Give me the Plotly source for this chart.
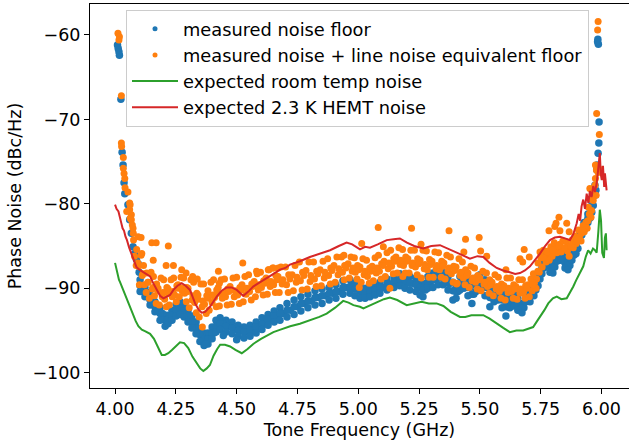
import plotly.graph_objects as go

# ---------------- data ----------------
tick_x = [4.0, 4.25, 4.5, 4.75, 5.0, 5.25, 5.5, 5.75, 6.0]
tick_x_text = ["4.00", "4.25", "4.50", "4.75", "5.00", "5.25", "5.50", "5.75", "6.00"]
tick_y = [-100, -90, -80, -70, -60]
tick_y_text = ["\u2212100", "\u221290", "\u221280", "\u221270", "\u221260"]

# measured noise floor: dense band (columns with upper / middle / lower points)
blue_cols = [
    4.103, 4.123, 4.144, 4.164, 4.185, 4.206, 4.218, 4.234, 4.251, 4.267,
    4.284, 4.300, 4.316, 4.333, 4.349, 4.366, 4.382, 4.399, 4.415, 4.432,
    4.456, 4.481, 4.506, 4.530, 4.555, 4.580, 4.604, 4.629, 4.654, 4.678,
    4.707, 4.736, 4.764, 4.793, 4.822, 4.851, 4.880, 4.908, 4.937, 4.966,
    4.986, 5.007, 5.028, 5.048, 5.069, 5.089, 5.118, 5.147, 5.171, 5.192,
    5.212, 5.237, 5.254, 5.266, 5.286, 5.307, 5.328, 5.348, 5.369, 5.389,
    5.402, 5.418, 5.434, 5.451, 5.467, 5.484, 5.500, 5.521, 5.541, 5.558,
    5.574, 5.591, 5.607, 5.623, 5.640, 5.656, 5.673, 5.689, 5.706, 5.722,
    5.739, 5.755, 5.772, 5.788, 5.800, 5.817, 5.833, 5.850, 5.862, 5.878,
    5.895, 5.911, 5.928, 5.944, 5.960, 5.973, 5.981]
blue_mid_x = [
    4.113, 4.133, 4.154, 4.174, 4.195, 4.212, 4.226, 4.242, 4.259, 4.275,
    4.292, 4.308, 4.324, 4.341, 4.357, 4.374, 4.390, 4.407, 4.423, 4.444,
    4.468, 4.493, 4.518, 4.542, 4.567, 4.592, 4.616, 4.641, 4.666, 4.692,
    4.721, 4.750, 4.778, 4.807, 4.836, 4.865, 4.894, 4.922, 4.951, 4.976,
    4.996, 5.017, 5.038, 5.058, 5.079, 5.103, 5.132, 5.159, 5.181, 5.202,
    5.224, 5.245, 5.260, 5.276, 5.296, 5.317, 5.338, 5.358, 5.379, 5.395,
    5.410, 5.426, 5.442, 5.459, 5.475, 5.492, 5.510, 5.531, 5.549, 5.566,
    5.582, 5.599, 5.615, 5.631, 5.648, 5.664, 5.681, 5.697, 5.714, 5.730,
    5.747, 5.763, 5.780, 5.794, 5.808, 5.825, 5.841, 5.856, 5.870, 5.886,
    5.903, 5.919, 5.936, 5.952, 5.966, 5.977, 5.984]
blue_upper = [
    -89.0, -89.9, -90.8, -91.6, -92.3, -93.2, -93.2, -92.6, -91.9, -91.6,
    -92.0, -92.6, -93.3, -94.0, -94.8, -95.3, -95.3, -94.6, -93.8, -93.5,
    -93.8, -94.0, -94.4, -94.6, -94.4, -94.0, -93.5, -93.1, -92.7, -92.3,
    -91.8, -91.4, -91.0, -90.7, -90.3, -90.1, -89.9, -89.6, -89.1, -89.0,
    -89.4, -89.7, -90.0, -90.0, -89.6, -89.3, -88.9, -88.6, -88.3, -88.4,
    -88.6, -88.8, -89.0, -89.4, -88.6, -88.2, -88.1, -88.1, -88.6, -89.3,
    -89.6, -88.6, -88.3, -89.0, -89.6, -88.8, -88.4, -89.0, -90.0, -90.0,
    -89.9, -90.5, -91.2, -90.7, -90.5, -91.2, -91.8, -90.1, -90.0, -89.5,
    -88.2, -86.9, -85.9, -86.7, -86.9, -85.6, -85.5, -86.4, -86.9, -85.5,
    -84.8, -83.2, -82.2, -81.2, -79.5, -77.8, -75.4]
blue_mid = [
    -89.7, -90.5, -91.4, -92.2, -93.0, -93.8, -93.7, -93.2, -92.6, -92.3,
    -92.7, -93.3, -94.0, -94.7, -95.5, -96.0, -96.0, -95.3, -94.5, -94.2,
    -94.5, -94.7, -95.0, -95.2, -95.0, -94.6, -94.2, -93.7, -93.3, -93.0,
    -92.6, -92.2, -91.8, -91.5, -91.1, -90.9, -90.6, -90.4, -89.9, -89.8,
    -90.1, -90.4, -90.6, -90.5, -90.2, -89.9, -89.5, -89.2, -89.0, -89.2,
    -89.4, -89.6, -89.9, -90.2, -89.3, -89.0, -88.8, -88.8, -89.4, -90.3,
    -90.4, -89.4, -89.1, -89.9, -90.7, -89.6, -89.3, -89.9, -91.1, -90.8,
    -90.6, -91.4, -92.2, -91.5, -91.3, -91.9, -92.3, -90.8, -90.8, -90.2,
    -88.9, -87.6, -86.6, -87.4, -87.5, -86.2, -86.1, -87.0, -87.3, -86.1,
    -85.3, -83.7, -82.6, -81.7, -80.2, -78.4, -75.7]
blue_lower = [
    -90.4, -91.0, -92.0, -92.8, -93.8, -94.5, -94.2, -93.8, -93.3, -93.1,
    -93.4, -94.0, -94.7, -95.4, -96.3, -96.8, -96.6, -96.0, -95.2, -94.9,
    -95.2, -95.4, -95.7, -95.9, -95.7, -95.3, -94.9, -94.4, -94.0, -93.8,
    -93.4, -93.1, -92.7, -92.3, -92.0, -91.8, -91.4, -91.2, -90.7, -90.6,
    -90.9, -91.2, -91.2, -91.0, -90.8, -90.6, -90.2, -89.9, -89.7, -90.0,
    -90.2, -90.4, -90.8, -91.0, -90.0, -89.9, -89.6, -89.6, -90.2, -91.4,
    -91.2, -90.2, -90.0, -90.9, -91.8, -90.4, -90.2, -90.9, -92.2, -91.6,
    -91.4, -92.3, -93.3, -92.3, -92.1, -92.6, -92.9, -91.6, -91.6, -90.9,
    -89.7, -88.3, -87.4, -88.1, -88.2, -86.8, -86.7, -87.6, -87.8, -86.7,
    -85.9, -84.3, -83.1, -82.2, -81.0, -79.0, -76.0]
# measured noise floor: steep edges, spikes, outliers
blue_extra_x = [4.010, 4.013, 4.016, 4.018, 4.024, 4.029, 4.033, 4.037, 4.040, 4.053,
                4.060, 4.067, 4.074, 4.081, 4.088, 4.095, 4.099, 4.372, 4.445, 4.500,
                5.985, 5.987, 5.984, 5.990, 5.989, 5.986]
blue_extra_y = [-61.2, -61.6, -62.0, -62.4, -67.6, -73.9, -75.4, -77.5, -78.8, -80.1,
                -81.9, -83.5, -85.1, -85.9, -86.6, -87.1, -88.1, -96.6, -95.6, -96.1,
                -60.5, -61.1, -60.8, -70.3, -72.8, -74.0]

# measured noise + line noise equivalent floor: band points
orange_x = [
    4.076, 4.089, 4.080, 4.087,
    4.107, 4.095, 4.112, 4.100,
    4.117, 4.130, 4.121, 4.128,
    4.148, 4.136, 4.153, 4.141,
    4.158, 4.171, 4.162, 4.169,
    4.189, 4.177, 4.194, 4.182,
    4.200, 4.213, 4.204, 4.211,
    4.230, 4.218, 4.235, 4.223,
    4.241, 4.254, 4.245, 4.252,
    4.271, 4.259, 4.276, 4.264,
    4.282, 4.295, 4.286, 4.293,
    4.312, 4.300, 4.317, 4.305,
    4.323, 4.336, 4.327, 4.334,
    4.353, 4.341, 4.358, 4.346,
    4.364, 4.377, 4.368, 4.375,
    4.394, 4.382, 4.399, 4.387,
    4.405, 4.418, 4.409, 4.416,
    4.436, 4.424, 4.441, 4.429,
    4.450, 4.463, 4.454, 4.461,
    4.485, 4.473, 4.490, 4.478,
    4.500, 4.513, 4.504, 4.511,
    4.534, 4.522, 4.539, 4.527,
    4.549, 4.562, 4.553, 4.560,
    4.584, 4.572, 4.589, 4.577,
    4.598, 4.611, 4.602, 4.609,
    4.633, 4.621, 4.638, 4.626,
    4.648, 4.661, 4.652, 4.659,
    4.682, 4.670, 4.687, 4.675,
    4.701, 4.714, 4.705, 4.712,
    4.740, 4.728, 4.745, 4.733,
    4.758, 4.771, 4.762, 4.769,
    4.797, 4.785, 4.802, 4.790,
    4.816, 4.829, 4.820, 4.827,
    4.855, 4.843, 4.860, 4.848,
    4.874, 4.887, 4.878, 4.885,
    4.912, 4.900, 4.917, 4.905,
    4.931, 4.944, 4.935, 4.942,
    4.970, 4.958, 4.975, 4.963,
    4.984, 4.997, 4.988, 4.995,
    5.019, 5.007, 5.024, 5.012,
    5.034, 5.047, 5.038, 5.045,
    5.069, 5.057, 5.074, 5.062,
    5.083, 5.096, 5.087, 5.094,
    5.118, 5.106, 5.123, 5.111,
    5.133, 5.146, 5.137, 5.144,
    5.167, 5.155, 5.172, 5.160,
    5.182, 5.195, 5.186, 5.193,
    5.216, 5.204, 5.221, 5.209,
    5.231, 5.244, 5.235, 5.242,
    5.266, 5.254, 5.271, 5.259,
    5.280, 5.293, 5.284, 5.291,
    5.315, 5.303, 5.320, 5.308,
    5.330, 5.343, 5.334, 5.341,
    5.364, 5.352, 5.369, 5.357,
    5.379, 5.392, 5.383, 5.390,
    5.414, 5.402, 5.419, 5.407,
    5.428, 5.441, 5.432, 5.439,
    5.463, 5.451, 5.468, 5.456,
    5.478, 5.491, 5.482, 5.489,
    5.512, 5.500, 5.517, 5.505,
    5.527, 5.540, 5.531, 5.538,
    5.562, 5.550, 5.567, 5.555,
    5.576, 5.589, 5.580, 5.587,
    5.611, 5.599, 5.616, 5.604,
    5.626, 5.639, 5.630, 5.637,
    5.660, 5.648, 5.665, 5.653,
    5.675, 5.688, 5.679, 5.686,
    5.710, 5.698, 5.715, 5.703,
    5.720, 5.733, 5.724, 5.731,
    5.751, 5.739, 5.756, 5.744,
    5.761, 5.774, 5.765, 5.772,
    5.792, 5.780, 5.797, 5.785,
    5.806, 5.819, 5.810, 5.817,
    5.841, 5.829, 5.846, 5.834,
    5.856, 5.869, 5.860, 5.867,
    5.891, 5.879, 5.896, 5.884,
    5.905, 5.918, 5.909, 5.916,
    5.936, 5.924, 5.941, 5.929,
    5.946, 5.959, 5.950, 5.957,
    5.973, 5.961, 5.978, 5.966,
    5.975, 5.988, 5.979, 5.986]
orange_y = [
    -84.3, -85.4, -86.2, -87.3,
    -86.1, -87.4, -88.5, -89.6,
    -87.3, -88.2, -89.6, -90.5,
    -88.1, -89.3, -90.1, -91.2,
    -88.6, -89.5, -90.9, -91.8,
    -88.8, -90.0, -91.0, -92.0,
    -89.0, -89.9, -91.3, -92.2,
    -89.0, -90.1, -91.0, -92.0,
    -88.8, -89.7, -90.8, -91.6,
    -88.7, -89.6, -90.3, -91.0,
    -88.8, -89.9, -90.6, -91.6,
    -89.0, -90.0, -91.4, -92.3,
    -89.3, -90.6, -91.7, -92.9,
    -89.5, -90.8, -92.2, -93.4,
    -89.5, -90.9, -91.9, -93.0,
    -89.3, -90.3, -91.7, -92.6,
    -89.0, -90.2, -91.1, -92.2,
    -89.0, -89.9, -91.2, -92.1,
    -88.9, -90.1, -91.0, -92.0,
    -88.8, -89.8, -91.0, -91.9,
    -88.7, -89.9, -90.8, -91.8,
    -88.6, -89.6, -90.7, -91.6,
    -88.4, -89.5, -90.4, -91.4,
    -88.3, -89.2, -90.2, -91.0,
    -88.1, -89.1, -89.9, -90.8,
    -87.8, -88.8, -89.8, -90.7,
    -87.6, -88.5, -89.6, -90.5,
    -87.5, -88.6, -89.5, -90.5,
    -87.5, -88.4, -89.6, -90.5,
    -87.3, -88.4, -89.3, -90.3,
    -86.9, -88.1, -89.1, -90.2,
    -86.9, -87.9, -89.2, -90.1,
    -86.9, -88.0, -88.9, -89.8,
    -86.8, -87.8, -88.8, -89.7,
    -86.5, -87.6, -88.5, -89.5,
    -86.3, -87.3, -88.4, -89.3,
    -86.3, -87.3, -88.1, -89.0,
    -86.3, -87.1, -88.0, -88.8,
    -86.4, -87.3, -88.1, -88.9,
    -86.5, -87.5, -88.4, -89.3,
    -86.7, -87.6, -88.6, -89.4,
    -86.4, -87.4, -88.2, -89.1,
    -86.1, -87.1, -88.0, -88.9,
    -85.8, -86.8, -87.7, -88.6,
    -85.5, -86.5, -87.4, -88.3,
    -85.2, -86.3, -87.2, -88.2,
    -85.4, -86.3, -87.3, -88.2,
    -85.5, -86.5, -87.3, -88.2,
    -85.5, -86.5, -87.5, -88.4,
    -85.5, -86.7, -87.7, -88.8,
    -85.6, -86.6, -87.8, -88.7,
    -85.7, -86.8, -87.7, -88.7,
    -85.8, -86.8, -87.8, -88.7,
    -86.1, -87.0, -88.0, -88.9,
    -86.3, -87.4, -88.3, -89.3,
    -86.5, -87.5, -88.5, -89.4,
    -86.9, -87.8, -88.8, -89.6,
    -87.4, -88.2, -89.1, -89.9,
    -87.6, -88.5, -89.3, -90.1,
    -88.0, -88.8, -89.5, -90.3,
    -88.2, -89.0, -89.8, -90.6,
    -88.4, -89.3, -90.1, -90.9,
    -88.7, -89.5, -90.4, -91.2,
    -88.8, -89.7, -90.5, -91.4,
    -88.8, -89.6, -90.4, -91.2,
    -89.0, -89.8, -90.6, -91.3,
    -89.0, -89.7, -90.5, -91.2,
    -88.9, -89.6, -90.3, -91.0,
    -88.3, -88.9, -89.4, -90.0,
    -86.4, -87.0, -87.5, -88.1,
    -85.5, -86.0, -86.4, -86.9,
    -85.1, -85.6, -86.2, -86.7,
    -84.6, -85.0, -85.4, -85.8,
    -84.4, -84.8, -85.3, -85.7,
    -84.5, -85.1, -85.6, -86.2,
    -83.8, -84.3, -84.7, -85.2,
    -83.1, -83.5, -84.0, -84.4,
    -82.2, -82.6, -82.9, -83.3,
    -80.4, -80.8, -81.2, -81.6,
    -77.8, -78.4, -79.0, -79.6,
    -75.4, -75.8, -76.0, -76.3]
# measured noise + line noise: points through the middle of the band
orange_c_x = [4.094, 4.115, 4.135, 4.156, 4.176, 4.197, 4.218, 4.238, 4.259, 4.279,
              4.300, 4.320, 4.341, 4.361, 4.382, 4.402, 4.423, 4.444, 4.468, 4.493,
              4.518, 4.542, 4.567, 4.592, 4.616, 4.641, 4.666, 4.690, 4.719, 4.748,
              4.776, 4.805, 4.834, 4.863, 4.892, 4.920, 4.949, 4.978, 5.002, 5.027,
              5.052, 5.077, 5.101, 5.126, 5.151, 5.175, 5.200, 5.224, 5.249, 5.274,
              5.298, 5.323, 5.348, 5.372, 5.397, 5.422, 5.446, 5.471, 5.496, 5.520,
              5.545, 5.570, 5.594, 5.619, 5.644, 5.668, 5.693, 5.718, 5.738, 5.759,
              5.779, 5.800, 5.824, 5.849, 5.874, 5.899, 5.923, 5.944, 5.962, 5.975]
orange_c_y = [-87.0, -88.3, -89.3, -89.9, -90.3, -90.5, -90.6, -90.4, -90.0, -90.0,
              -90.4, -90.9, -91.3, -91.5, -91.2, -90.8, -90.6, -90.6, -90.4, -90.3,
              -90.2, -90.0, -89.8, -89.6, -89.4, -89.2, -89.0, -89.0, -88.9, -88.7,
              -88.5, -88.5, -88.3, -88.1, -87.9, -87.7, -87.6, -87.6, -87.8, -88.0,
              -88.0, -87.6, -87.3, -87.0, -86.8, -86.7, -86.8, -87.0, -87.1, -87.2,
              -87.2, -87.3, -87.4, -87.6, -87.9, -88.1, -88.5, -88.8, -89.0, -89.3,
              -89.6, -89.8, -90.0, -90.0, -90.1, -90.1, -90.0, -89.6, -88.0, -86.4,
              -85.7, -85.5, -85.0, -85.2, -85.0, -84.2, -83.2, -82.0, -79.5, -77.0]
# measured noise + line noise: steep edges, spikes, outliers
orange_out_x = [4.012, 4.018, 4.016, 4.026, 4.026, 4.027, 4.034, 4.034, 4.037, 4.040,
                4.041, 4.053, 4.060, 4.060, 4.067, 4.067, 4.074, 4.071, 4.075, 4.095,
                4.062, 4.048, 4.062, 4.107, 4.110, 4.151, 4.169, 4.219, 4.157, 4.210,
                4.240, 4.274, 4.292, 4.319, 4.338, 4.425, 4.525, 4.582, 4.630, 4.671,
                4.359, 4.429, 4.651, 4.941, 5.014, 5.082, 5.103, 5.004, 5.130, 5.219,
                5.258, 5.183, 5.373, 5.441, 5.497, 5.503, 5.434, 5.528, 5.404, 5.607,
                5.665, 5.682, 5.676, 5.703, 5.747, 5.784, 5.825, 5.813, 5.808, 5.829,
                5.857, 5.867, 5.952, 5.986, 5.984, 5.980, 5.991]
orange_out_y = [-59.8, -60.2, -60.6, -67.2, -72.8, -73.2, -74.5, -75.8, -76.4, -77.0,
                -78.1, -78.6, -79.9, -80.7, -81.3, -81.9, -82.9, -82.5, -83.5, -83.9,
                -80.1, -80.9, -81.7, -84.0, -85.9, -84.6, -84.6, -85.0, -86.7, -87.3,
                -87.3, -87.8, -88.2, -88.6, -88.9, -88.0, -87.0, -88.0, -87.8, -87.6,
                -94.6, -89.4, -87.6, -86.1, -84.7, -82.8, -85.1, -89.9, -90.0, -82.9,
                -84.8, -88.6, -83.2, -84.2, -84.0, -85.6, -85.7, -86.2, -89.5, -87.8,
                -86.5, -85.4, -86.9, -86.3, -85.7, -83.2, -81.6, -82.3, -82.7, -83.2,
                -82.3, -83.3, -78.2, -58.4, -59.4, -69.3, -71.8]

# expected room temp noise
green_x = [4.000, 4.005, 4.010, 4.016, 4.021, 4.028, 4.035, 4.041, 4.050, 4.060,
           4.075, 4.085, 4.096, 4.110, 4.125, 4.144, 4.160, 4.175, 4.192, 4.205,
           4.219, 4.235, 4.250, 4.267, 4.284, 4.301, 4.318, 4.336, 4.350, 4.363,
           4.377, 4.390, 4.405, 4.420, 4.432, 4.452, 4.473, 4.495, 4.521, 4.545,
           4.568, 4.600, 4.630, 4.651, 4.680, 4.720, 4.760, 4.800, 4.840, 4.870,
           4.905, 4.938, 4.960, 4.980, 5.007, 5.021, 5.050, 5.080, 5.105, 5.130,
           5.160, 5.199, 5.230, 5.260, 5.290, 5.322, 5.350, 5.380, 5.418, 5.440,
           5.465, 5.490, 5.514, 5.540, 5.569, 5.596, 5.623, 5.650, 5.678, 5.700,
           5.719, 5.735, 5.747, 5.765, 5.781, 5.800, 5.816, 5.835, 5.857, 5.870,
           5.884, 5.895, 5.905, 5.915, 5.925, 5.935, 5.945, 5.955, 5.965, 5.973,
           5.980, 5.987, 5.993, 5.998, 6.003, 6.010, 6.014, 6.018, 6.021]
green_y = [-87.0, -87.6, -88.4, -89.0, -89.3, -89.8, -90.4, -90.8, -91.6, -92.3,
           -93.3, -93.9, -94.5, -94.9, -95.1, -95.4, -96.0, -96.9, -97.9, -97.9,
           -97.7, -97.3, -96.9, -96.4, -96.5, -97.1, -98.1, -98.9, -99.5, -99.8,
           -99.5, -99.1, -98.0, -97.2, -96.7, -96.7, -96.9, -97.3, -97.7, -97.2,
           -96.6, -96.0, -95.5, -95.2, -94.9, -94.5, -94.2, -93.8, -93.4, -93.0,
           -92.3, -91.5, -91.7, -92.0, -92.2, -92.4, -92.0, -91.6, -91.3, -91.1,
           -91.4, -92.0, -91.8, -91.6, -91.8, -91.8, -92.1, -92.8, -93.4, -93.4,
           -93.2, -93.2, -93.2, -93.6, -94.2, -94.7, -95.2, -95.0, -95.0, -94.8,
           -94.6, -93.9, -93.4, -92.6, -91.8, -91.2, -91.0, -91.3, -91.2, -90.6,
           -89.8, -89.1, -88.5, -88.0, -87.4, -86.3, -85.5, -85.9, -85.3, -85.5,
           -85.8, -83.3, -80.7, -82.0, -85.8, -86.4, -84.0, -83.5, -85.5]

# expected 2.3 K HEMT noise
red_x = [4.000, 4.006, 4.014, 4.020, 4.025, 4.031, 4.037, 4.043, 4.049, 4.058,
         4.067, 4.077, 4.088, 4.100, 4.111, 4.122, 4.133, 4.144, 4.157, 4.171,
         4.185, 4.199, 4.212, 4.226, 4.240, 4.257, 4.274, 4.290, 4.308, 4.320,
         4.329, 4.343, 4.356, 4.370, 4.382, 4.390, 4.404, 4.418, 4.438, 4.459,
         4.480, 4.500, 4.515, 4.527, 4.548, 4.568, 4.590, 4.610, 4.640, 4.678,
         4.700, 4.719, 4.760, 4.801, 4.840, 4.884, 4.920, 4.952, 4.975, 5.007,
         5.028, 5.048, 5.080, 5.117, 5.145, 5.171, 5.200, 5.230, 5.267, 5.300,
         5.336, 5.370, 5.404, 5.430, 5.459, 5.490, 5.514, 5.540, 5.569, 5.595,
         5.623, 5.645, 5.665, 5.685, 5.706, 5.727, 5.747, 5.768, 5.788, 5.808,
         5.829, 5.850, 5.870, 5.884, 5.898, 5.906, 5.912, 5.918, 5.925, 5.932,
         5.939, 5.946, 5.952, 5.959, 5.966, 5.973, 5.980, 5.986, 5.993, 5.997,
         6.001, 6.006, 6.011, 6.014, 6.018, 6.021]
red_y = [-80.1, -80.6, -80.9, -81.8, -82.2, -82.9, -83.2, -83.9, -84.3, -85.2,
         -85.9, -86.6, -87.5, -87.8, -88.0, -88.2, -88.4, -88.6, -89.4, -90.2,
         -90.9, -91.2, -91.0, -90.8, -90.2, -89.7, -89.4, -89.7, -90.2, -91.0,
         -91.8, -92.5, -92.9, -92.8, -92.5, -92.2, -91.6, -91.0, -90.3, -89.9,
         -89.9, -90.2, -90.6, -90.9, -90.4, -89.8, -89.4, -89.0, -88.5, -87.8,
         -87.6, -87.2, -86.8, -86.3, -85.9, -85.5, -85.0, -84.6, -84.8, -85.4,
         -85.1, -85.2, -84.8, -84.3, -84.2, -84.1, -84.6, -85.0, -85.3, -85.0,
         -84.9, -85.3, -85.7, -86.1, -86.5, -86.2, -86.3, -87.0, -87.6, -87.9,
         -88.1, -88.3, -88.2, -87.9, -87.4, -86.7, -85.9, -85.0, -84.3, -84.0,
         -83.9, -84.1, -84.3, -83.6, -82.3, -81.2, -82.0, -80.3, -79.5, -80.6,
         -78.8, -79.9, -78.5, -79.2, -77.9, -78.6, -77.6, -76.0, -74.0, -76.5,
         -77.2, -75.5, -78.0, -76.4, -77.5, -78.4]

assert len(blue_cols) == len(blue_mid_x) == len(blue_upper) == len(blue_mid) == len(blue_lower)
assert len(blue_extra_x) == len(blue_extra_y)
assert len(orange_x) == len(orange_y)
assert len(orange_c_x) == len(orange_c_y)
assert len(orange_out_x) == len(orange_out_y)
assert len(green_x) == len(green_y)
assert len(red_x) == len(red_y)

names = ["measured noise floor",
         "measured noise + line noise equivalent floor",
         "expected room temp noise",
         "expected 2.3 K HEMT noise"]
C_BLUE, C_ORANGE, C_GREEN, C_RED = "#1f77b4", "#ff7f0e", "#2ca02c", "#d62728"

# ---------------- figure ----------------
fig = go.Figure()
fig.add_trace(go.Scatter(
    x=blue_cols + blue_mid_x + blue_cols + blue_cols + blue_extra_x,
    y=blue_upper + blue_mid + blue_mid + blue_lower + blue_extra_y,
    mode="markers", marker=dict(size=7.5, color=C_BLUE, line=dict(width=0)),
    showlegend=False, hoverinfo="skip"))
fig.add_trace(go.Scatter(
    x=orange_x + orange_c_x + orange_out_x, y=orange_y + orange_c_y + orange_out_y,
    mode="markers", marker=dict(size=7, color=C_ORANGE, line=dict(width=0)),
    showlegend=False, hoverinfo="skip"))
# legend entries for the point series (small dots, as in the reference legend)
fig.add_trace(go.Scatter(x=[None], y=[None], mode="markers", name=names[0],
                         marker=dict(size=5, color=C_BLUE), legendgroup="a"))
fig.add_trace(go.Scatter(x=[None], y=[None], mode="markers", name=names[1],
                         marker=dict(size=5, color=C_ORANGE), legendgroup="b"))
fig.add_trace(go.Scatter(x=green_x, y=green_y, mode="lines", name=names[2],
                         line=dict(color=C_GREEN, width=2), legendgroup="c"))
fig.add_trace(go.Scatter(x=red_x, y=red_y, mode="lines", name=names[3],
                         line=dict(color=C_RED, width=2), legendgroup="d"))

FONT = "DejaVu Sans"
FS = 17.5
fig.update_layout(
    width=629, height=440,
    margin=dict(l=90, r=0, t=4, b=52),
    paper_bgcolor="white", plot_bgcolor="white",
    font=dict(family=FONT, size=FS, color="black"),
    legend=dict(x=0.0668, y=0.985, xanchor="left", yanchor="top",
                bgcolor="rgba(255,255,255,0.8)", bordercolor="#cccccc", borderwidth=1,
                font=dict(family=FONT, size=17.8, color="black"),
                traceorder="grouped", tracegroupgap=0, itemwidth=46),
    xaxis=dict(range=[3.897, 6.113], tickvals=tick_x, ticktext=tick_x_text,
               ticks="outside", ticklen=5, tickwidth=1, tickcolor="black",
               showline=True, linecolor="black", linewidth=1, mirror=True,
               showgrid=False, zeroline=False,
               title=dict(text="Tone Frequency (GHz)", standoff=6,
                          font=dict(family=FONT, size=FS))),
    yaxis=dict(range=[-101.82, -56.33], tickvals=tick_y, ticktext=tick_y_text,
               ticks="outside", ticklen=5, tickwidth=1, tickcolor="black",
               showline=True, linecolor="black", linewidth=1,
               showgrid=False, zeroline=False,
               title=dict(text="Phase Noise (dBc/Hz)", standoff=6,
                          font=dict(family=FONT, size=FS))),
)

fig.write_html("out.html")
